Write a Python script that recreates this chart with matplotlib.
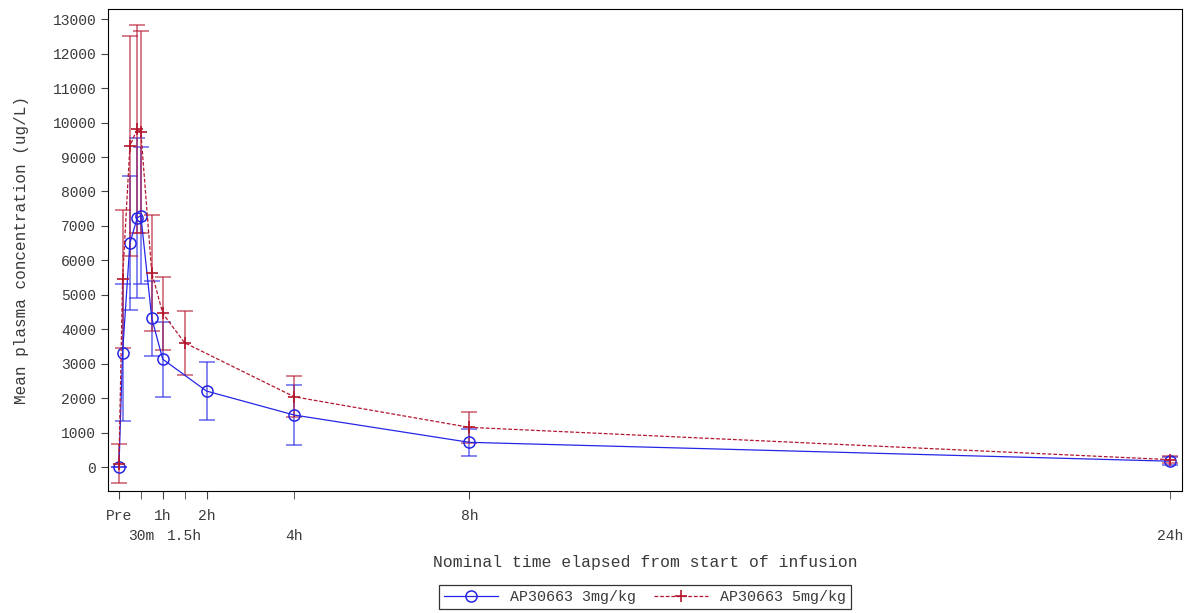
import numpy as np
import matplotlib
matplotlib.use('Agg')
import matplotlib.pyplot as plt

plt.rcParams['font.family'] = ['Liberation Mono', 'DejaVu Sans Mono']

# Czasy nominalne (h) i średnie stężenia
t_3 = [0, 0.083, 0.25, 0.417, 0.5, 0.75, 1, 2, 4, 8, 24]
mean_3 = [0, 3320, 6500, 7230, 7300, 4315, 3130, 2205, 1510, 717, 170]
sd_3 = [0, 1985, 1950, 2326, 2000, 1083, 1088, 837, 871, 400, 110]

t_5 = [0, 0.083, 0.25, 0.417, 0.5, 0.75, 1, 1.5, 4, 8, 24]
mean_5 = [100, 5455, 9320, 9817, 9721, 5638, 4460, 3607, 2040, 1152, 215]
sd_5 = [575, 2005, 3200, 3013, 2940, 1683, 1063, 929, 601, 444, 110]

# Etykiety osi x w dwóch rzędach
tick_pos_top = [0, 1, 2, 8]
tick_lab_top = ['Pre', '1h', '2h', '8h']
tick_pos_low = [0.5, 1.5, 4, 24]
tick_lab_low = ['30m', '1.5h', '4h', '24h']

blue = '#2626e6'
red = '#b5162e'
txt_col = '#3a3a3a'

fig = plt.figure(figsize=(11.92, 6.13), dpi=100)
ax = fig.add_axes([0.0906, 0.199, 0.901, 0.786])

# Słupki błędów (jaśniejsze)
ax.errorbar(t_3, mean_3, yerr=sd_3, fmt='none', ecolor=blue, alpha=0.6,
            elinewidth=1.3, capsize=6, capthick=1.3)
ax.errorbar(t_5, mean_5, yerr=sd_5, fmt='none', ecolor=red, alpha=0.6,
            elinewidth=1.3, capsize=6, capthick=1.3)

l1, = ax.plot(t_3, mean_3, color=blue, lw=0.9, marker='o', mfc='none',
              mec=blue, ms=8, mew=1.1, label='AP30663 3mg/kg')
l2, = ax.plot(t_5, mean_5, color=red, lw=0.9, ls=(0, (3, 1.5)), marker='+',
              ms=9, mew=1.2, label='AP30663 5mg/kg')

ax.set_xlim(-0.25, 24.27)
ax.set_ylim(-696, 13291)
ax.set_yticks(np.arange(0, 13001, 1000))
ax.set_xticks(tick_pos_top)
ax.set_xticklabels(tick_lab_top, fontsize=10.5, color=txt_col)
ax.set_xticks(tick_pos_low, minor=True)
ax.set_xticklabels(tick_lab_low, minor=True, fontsize=10.5, color=txt_col)
ax.tick_params(axis='y', labelsize=10.5, length=5, color='#444444',
               labelcolor=txt_col)
ax.tick_params(axis='x', which='major', length=6, color='#444444', pad=7)
ax.tick_params(axis='x', which='minor', length=6, color='#444444', pad=21)

ax.set_xlabel('Nominal time elapsed from start of infusion', fontsize=11.8,
              color=txt_col, labelpad=9)
ax.set_ylabel('Mean plasma concentration (ug/L)', fontsize=11.5,
              color=txt_col, labelpad=17)

# Legenda wyśrodkowana względem osi
leg = fig.legend(handles=[l1, l2], loc='lower center',
                 bbox_to_anchor=(0.541, 0.006),
                 ncol=2, fontsize=10.8, frameon=True, fancybox=False,
                 edgecolor='black', handlelength=3.6, columnspacing=1.2,
                 borderpad=0.35, handletextpad=0.8, borderaxespad=0)
leg.get_frame().set_linewidth(0.9)
for txt in leg.get_texts():
    txt.set_color(txt_col)

fig.savefig('out.png', dpi=100)
